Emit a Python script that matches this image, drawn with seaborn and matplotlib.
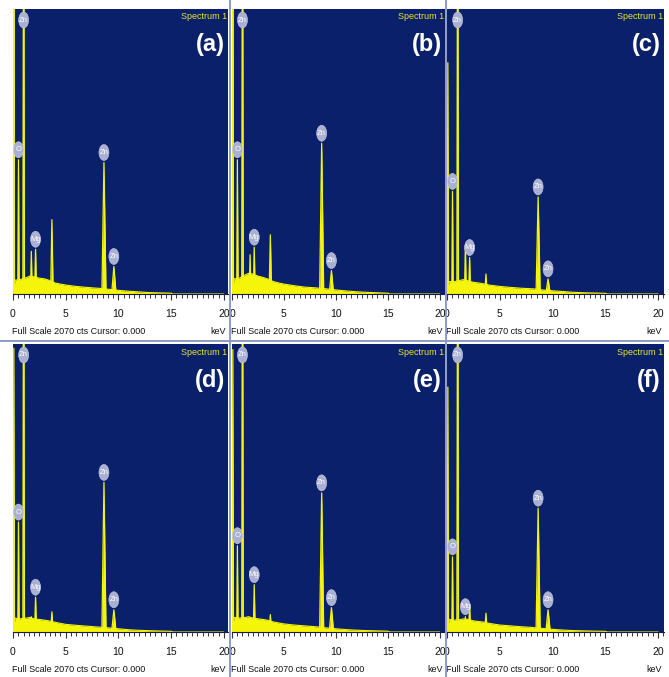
import numpy as np
import matplotlib
matplotlib.use("Agg")
import matplotlib.pyplot as plt
import seaborn as sns
from matplotlib.patches import Ellipse
from matplotlib.transforms import Affine2D, ScaledTranslation
from matplotlib.lines import Line2D
from matplotlib.ticker import MultipleLocator

sns.set_theme(style="white")
plt.rcParams['font.family'] = ['Liberation Sans', 'DejaVu Sans']

# ---------------- data ----------------
FULL_SCALE = 2070
panel_letters = ["(a)", "(b)", "(c)", "(d)", "(e)", "(f)"]
spectrum_title = "Spectrum 1"
footer_text = "Full Scale 2070 cts Cursor: 0.000"
unit_text = "keV"
tick_values = [0, 5, 10, 15, 20]
tick_labels = ["0", "5", "10", "15", "20"]

# peak energies (keV): noise, O, Zn L, Mg(1), Mg(2), Ca, Zn Ka, Zn Kb
peak_kev = [0.08, 0.52, 1.01, 1.74, 2.14, 3.69, 8.63, 9.57]

peak_cts_a = [2400, 975, 3500, 310, 325, 540, 955, 200]
peak_cts_b = [2400, 975, 3500, 285, 340, 430, 1095, 170]
peak_cts_c = [1680, 745, 3500, 350, 265, 145, 705, 110]
peak_cts_d = [2040, 790, 3500, 110, 250, 145, 1075, 160]
peak_cts_e = [2030, 620, 3500, 95, 340, 125, 1000, 175]
peak_cts_f = [1760, 540, 3500, 110, 195, 135, 890, 160]

labels_std = ["", "O", "Zn", "", "Mg", "", "Zn", "Zn"]
labels_f = ["", "O", "Zn", "Mg", "", "", "Zn", "Zn"]

bg_kev = [0.0, 0.2, 0.7, 1.3, 1.6, 2.0, 2.5, 3.0, 3.4, 4.0, 4.5, 5.0, 6.0, 7.0,
          8.0, 8.4, 9.0, 10.2, 11.0, 12.0, 13.0, 14.0, 15.0, 15.2, 20.0]
bg_cts_a = [0, 100, 105, 120, 130, 125, 115, 110, 100, 80, 72, 65, 55, 48, 42, 40, 35, 25, 20, 15, 10, 8, 6, 0, 0]
bg_cts_b = [0, 110, 115, 140, 150, 145, 130, 120, 110, 90, 80, 72, 60, 50, 45, 42, 38, 28, 22, 16, 12, 9, 6, 0, 0]
bg_cts_c = [0, 90, 90, 100, 105, 95, 85, 80, 75, 65, 60, 55, 48, 42, 38, 36, 30, 22, 18, 12, 9, 7, 5, 0, 0]
bg_cts_d = [0, 100, 95, 100, 105, 95, 90, 85, 80, 70, 62, 55, 48, 42, 36, 34, 30, 22, 16, 12, 9, 7, 5, 0, 0]
bg_cts_e = [0, 105, 100, 105, 110, 100, 95, 90, 85, 72, 65, 58, 50, 44, 38, 35, 30, 22, 17, 13, 10, 8, 6, 0, 0]
bg_cts_f = [0, 90, 85, 90, 95, 90, 80, 75, 72, 62, 56, 50, 44, 38, 33, 30, 26, 18, 14, 10, 8, 6, 5, 0, 0]

panels = [
    (peak_cts_a, bg_cts_a, labels_std),
    (peak_cts_b, bg_cts_b, labels_std),
    (peak_cts_c, bg_cts_c, labels_std),
    (peak_cts_d, bg_cts_d, labels_std),
    (peak_cts_e, bg_cts_e, labels_std),
    (peak_cts_f, bg_cts_f, labels_f),
]

# ---------------- style / layout ----------------
W, H = 669, 677
NAVY = "#0a206a"
YELLOW = "#f5f50a"
LABEL_FC = "#a9b0d2"
DIVIDER = "#8d9bc8"
cols_px = [(13, 228), (232, 445), (447, 664)]
col_xmax = [20.4, 20.5, 20.55]
rows_px = [(9, 294), (344, 632)]

fig = plt.figure(figsize=(W / 100, H / 100), dpi=100)
fig.patch.set_facecolor("white")

for i, (pk, bg, labs) in enumerate(panels):
    r, c = divmod(i, 3)
    x0, x1 = cols_px[c]
    yt, yb = rows_px[r]
    ax = fig.add_axes([x0 / W, 1 - yb / H, (x1 - x0) / W, (yb - yt) / H])
    ax.set_facecolor(NAVY)

    # background continuum
    sns.lineplot(x=bg_kev, y=bg, ax=ax, color=YELLOW, lw=0.8,
                 estimator=None, sort=False, legend=False)
    ax.fill_between(bg_kev, 0, bg, color=YELLOW, lw=0)

    # peaks
    for e, h in zip(peak_kev, pk):
        w = 0.06 + 0.016 * e
        px = [e - w, e, e + w]
        py = [0, h, 0]
        sns.lineplot(x=px, y=py, ax=ax, color=YELLOW, lw=0.9,
                     estimator=None, sort=False, legend=False)
        ax.fill_between(px, 0, py, color=YELLOW, lw=0)

    # element markers
    for e, h, lab in zip(peak_kev, pk, labs):
        if not lab:
            continue
        if h > FULL_SCALE:
            yv, dy = FULL_SCALE, -11
        else:
            yv, dy = h, 10
        tr = Affine2D().translate(0, dy) + ScaledTranslation(e, yv, ax.transData)
        ax.add_patch(Ellipse((0, 0), 10, 16, transform=tr, fc=LABEL_FC,
                             ec="#c8cde6", lw=0.4, zorder=5))
        ax.annotate(lab, xy=(e, yv), xytext=(0, dy), textcoords="offset pixels",
                    ha="center", va="center", fontsize=5.5, color="white",
                    zorder=6)

    ax.set_xlim(0, col_xmax[c])
    ax.set_ylim(0, FULL_SCALE)
    ax.set_xlabel("")
    ax.set_ylabel("")
    ax.set_yticks([])
    ax.set_xticks(tick_values)
    ax.set_xticklabels(tick_labels)
    ax.xaxis.set_minor_locator(MultipleLocator(0.5))
    ax.tick_params(axis="x", which="major", direction="out", length=4, width=0.8,
                   color="#333333", pad=7, labelsize=7.5, labelcolor="#111111",
                   bottom=True)
    ax.tick_params(axis="x", which="minor", direction="out", length=3, width=0.7,
                   color="#333333", bottom=True)
    for s in ["top", "left", "right"]:
        ax.spines[s].set_visible(False)
    ax.spines["bottom"].set_color("#1a1a3a")
    ax.spines["bottom"].set_linewidth(0.8)

    ax.text(0.998, 0.972, spectrum_title, transform=ax.transAxes, ha="right",
            va="center", fontsize=6.5, color="#e6e632")
    ax.text(0.985, 0.875, panel_letters[i], transform=ax.transAxes, ha="right",
            va="center", fontsize=17, fontweight="bold", color="white")
    ax.annotate(footer_text, xy=(0, 0), xycoords="axes fraction",
                xytext=(-1, -38), textcoords="offset pixels", ha="left",
                va="center", fontsize=6.5, color="#111111")
    ax.annotate(unit_text, xy=(1, 0), xycoords="axes fraction",
                xytext=(-2, -38), textcoords="offset pixels", ha="right",
                va="center", fontsize=6.5, color="#111111")

# panel dividers
for xd in [230, 446]:
    fig.add_artist(Line2D([xd / W, xd / W], [0, 1], transform=fig.transFigure,
                          color=DIVIDER, lw=1.4))
fig.add_artist(Line2D([0, 1], [1 - 341 / H, 1 - 341 / H], transform=fig.transFigure,
                      color=DIVIDER, lw=1.4))

fig.savefig("out.png", dpi=100, facecolor="white")
